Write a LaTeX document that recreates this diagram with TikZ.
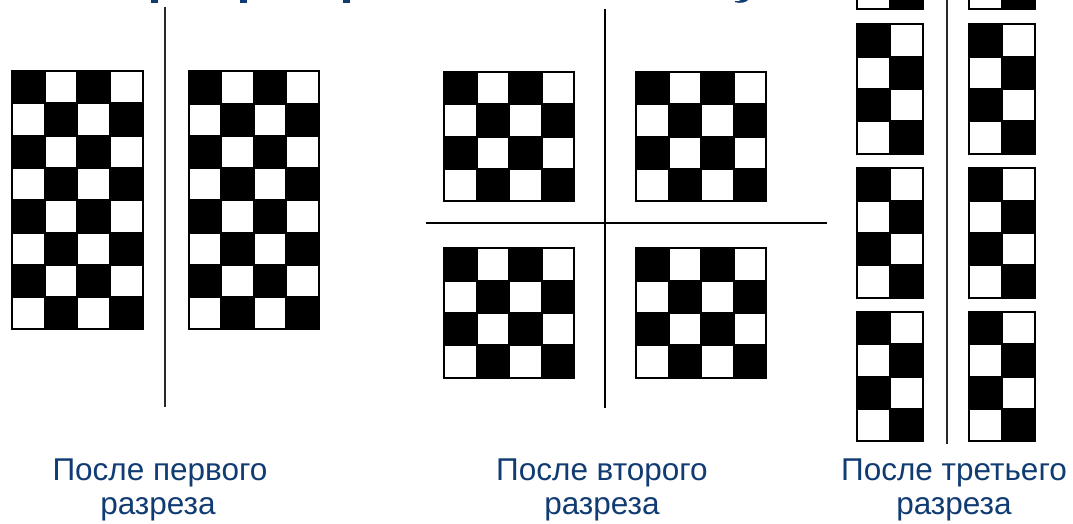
\documentclass[tikz,border=0pt]{standalone}
\usepackage{fontspec}
\setmainfont{Liberation Sans}
\definecolor{capblue}{RGB}{16,60,115}
\definecolor{cutgray}{RGB}{40,40,40}
\tikzset{
  caption/.style={text=capblue, font=\fontsize{31.5}{37}\selectfont, anchor=base, inner sep=0pt},
  cutline/.style={line width=1.7pt, draw=cutgray},
  cutlinebold/.style={line width=2pt, draw=black},
  cellwhite/.style={fill=white, draw=black, line width=2pt},
  boardframe/.style={draw=black, line width=2pt},
}
% #1 x, #2 y, #3 cols, #4 rows, #5 cell width, #6 cell height
\newcommand\myboard[6]{%
  \begin{scope}[shift={(#1,#2)}]
    \pgfmathsetmacro\bw{#3*#5}\pgfmathsetmacro\bh{#4*#6}
    \fill[black] (0,0) rectangle (\bw,\bh);
    \foreach \i in {1,...,#3}{
      \foreach \j in {1,...,#4}{
        \pgfmathtruncatemacro\cellodd{mod(\i+\j,2)}
        \ifnum\cellodd=1
          \pgfmathsetmacro\xa{(\i-1)*#5}\pgfmathsetmacro\xb{\i*#5}
          \pgfmathsetmacro\ya{(\j-1)*#6}\pgfmathsetmacro\yb{\j*#6}
          \filldraw[cellwhite] (\xa,\ya) rectangle (\xb,\yb);
        \fi
      }
    }
    \draw[boardframe] (0,0) rectangle (\bw,\bh);
  \end{scope}
}
\begin{document}
\begin{tikzpicture}[x=1pt,y=-1pt]
\useasboundingbox (0,0) rectangle (1073,524);
\clip (0,0) rectangle (1073,524);
\fill[white] (0,0) rectangle (1073,524);

% remnants of a cut-off title at the top edge
\fill[capblue] (151,0) rectangle (157.7,3);
\fill[capblue] (240,0) rectangle (247,3);
\fill[capblue] (343,0) rectangle (350,3);
\fill[capblue] (735,2.2) .. controls (741,3.6) and (746,2.5) .. (748,0) -- (741,0) .. controls (739,1.2) .. (735,1) -- cycle;

% ---- after the first cut
\myboard{12}{71}{4}{8}{32.7}{32.3}
\myboard{188.5}{71.5}{4}{8}{32.6}{32.2}
\coordinate (c1t) at (165,7);
\coordinate (c1b) at (165,407);
\draw[cutline] (c1t) -- (c1b);

% ---- after the second cut
\myboard{444.3}{72}{4}{4}{32.4}{32.3}
\myboard{636}{72}{4}{4}{32.5}{32.3}
\myboard{444.3}{248.3}{4}{4}{32.4}{32.35}
\myboard{636}{248.3}{4}{4}{32.5}{32.35}
\coordinate (c2t) at (604.7,9);
\coordinate (c2b) at (604.7,408);
\coordinate (c2l) at (426,222.7);
\coordinate (c2r) at (827,222.7);
\draw[cutlinebold] (c2t) -- (c2b);
\draw[cutlinebold] (c2l) -- (c2r);

% ---- after the third cut
\foreach \yy in {-120,24.3,168.3,312}{
  \myboard{857}{\yy}{2}{4}{32.9}{32.35}
  \myboard{969}{\yy}{2}{4}{33}{32.35}
}
\coordinate (c3t) at (947,0);
\coordinate (c3b) at (947,444);
\draw[cutline] (c3t) -- (c3b);

% ---- captions
\node[caption] (cap1a) at (160,480) {После первого};
\node[caption] (cap1b) at (158,514) {разреза};
\node[caption] (cap2a) at (602,480) {После второго};
\node[caption] (cap2b) at (602,514) {разреза};
\node[caption] (cap3a) at (954,480) {После третьего};
\node[caption] (cap3b) at (954,514) {разреза};
\end{tikzpicture}
\end{document}
